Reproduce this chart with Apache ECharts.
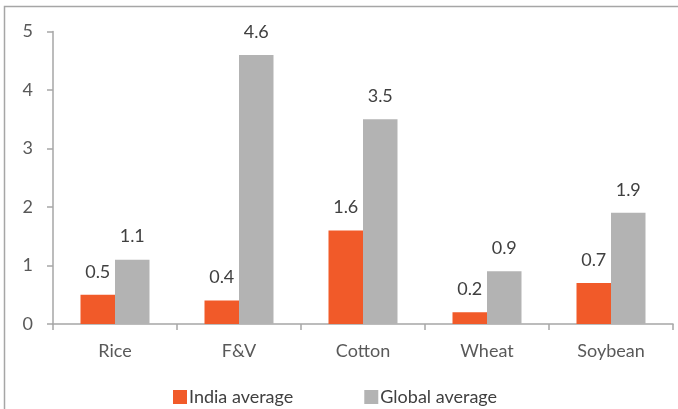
<!DOCTYPE html>
<html>
<head>
<meta charset="utf-8">
<script src="https://cdn.jsdelivr.net/npm/echarts@6/dist/echarts.min.js"></script>
<style>
  html, body { margin: 0; padding: 0; background: #fff; }
  #chart { width: 678px; height: 409px; }
</style>
</head>
<body>
<div id="chart"></div>
<script>
// Crop categories and average values per series
const categories = ['Rice', 'F&V', 'Cotton', 'Wheat', 'Soybean'];
const indiaAverage = [0.5, 0.4, 1.6, 0.2, 0.7];
const globalAverage = [1.1, 4.6, 3.5, 0.9, 1.9];
const yTicks = [0, 1, 2, 3, 4, 5];

const FONT = 'Lato, "Open Sans", sans-serif';
const chart = echarts.init(document.getElementById('chart'), null, { renderer: 'canvas' });

const labelStyle = {
  show: true,
  position: 'top',
  distance: 14,
  color: '#404040',
  fontSize: 18,
  fontFamily: FONT,
  formatter: p => p.value.toFixed(1)
};

chart.setOption({
  animation: false,
  backgroundColor: '#fff',
  graphic: [{
    type: 'rect',
    shape: { x: 4.5, y: 6.5, width: 720, height: 460 },
    style: { fill: 'none', stroke: '#a6a6a6', lineWidth: 1.5 },
    z: 0
  }],
  grid: { left: 53, right: 5, top: 31.5, bottom: 85 },
  legend: {
    top: 383,
    left: 168,
    itemWidth: 14,
    itemHeight: 14,
    itemGap: 71,
    icon: 'rect',
    textStyle: { color: '#404040', fontSize: 18, fontFamily: FONT, padding: [0, 0, 0, -3] },
    data: ['India average', 'Global average']
  },
  xAxis: {
    type: 'category',
    data: categories,
    axisLine: { lineStyle: { color: '#a6a6a6', width: 1.5 } },
    axisTick: { show: true, alignWithLabel: false, length: 6, lineStyle: { color: '#a6a6a6', width: 1.5 } },
    axisLabel: { color: '#595959', fontSize: 18, fontFamily: FONT, margin: 18 }
  },
  yAxis: {
    type: 'value',
    min: yTicks[0],
    max: yTicks[yTicks.length - 1],
    interval: 1,
    splitLine: { show: false },
    axisLine: { show: true, lineStyle: { color: '#a6a6a6', width: 1.5 } },
    axisTick: { show: true, length: 6, lineStyle: { color: '#a6a6a6', width: 1.5 } },
    axisLabel: { color: '#595959', fontSize: 18, fontFamily: FONT, margin: 20 }
  },
  series: [
    {
      name: 'India average',
      type: 'bar',
      data: indiaAverage,
      barWidth: 34.5,
      barGap: '0%',
      itemStyle: { color: '#F15A29' },
      label: labelStyle
    },
    {
      name: 'Global average',
      type: 'bar',
      data: globalAverage,
      barWidth: 34.5,
      barGap: '0%',
      itemStyle: { color: '#B3B3B3' },
      label: labelStyle
    }
  ]
});
</script>
</body>
</html>
